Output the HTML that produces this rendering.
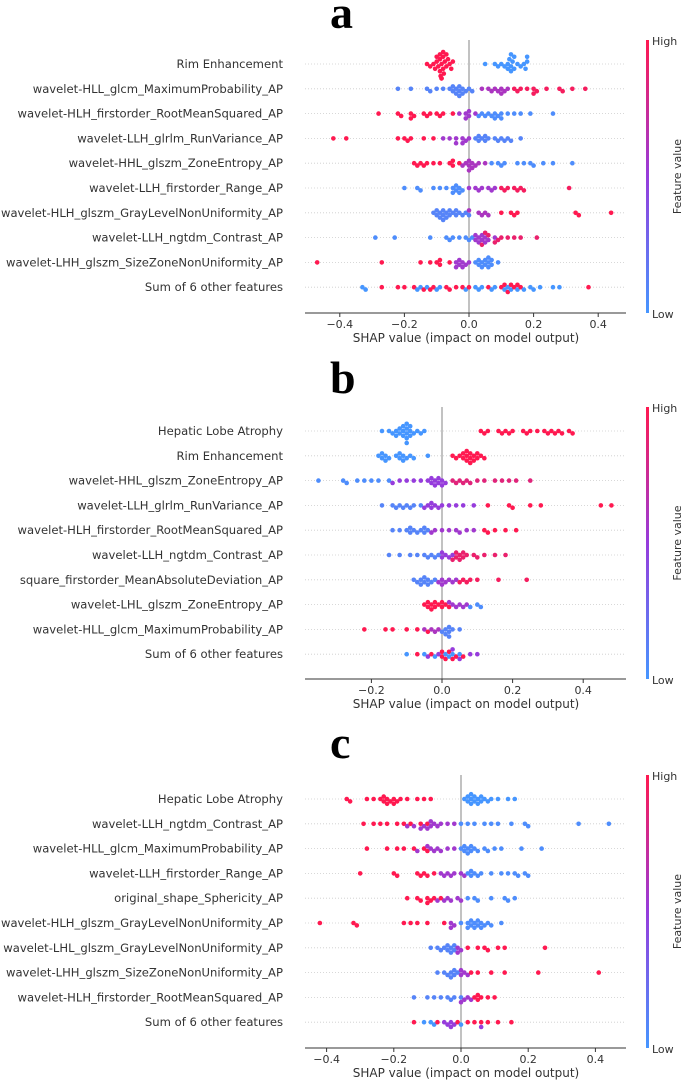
<!DOCTYPE html>
<html><head><meta charset="utf-8"><style>
html,body{margin:0;padding:0;background:#fff}
svg{display:block;font-family:"DejaVu Sans","Liberation Sans",sans-serif}
</style></head><body>
<svg id="chart" width="685" height="1080" viewBox="0 0 685 1080"></svg>
<script>
// Panel data: each row is a list of [featureValue, [shap values]] groups
const labelsA = ["Rim Enhancement","wavelet-HLL_glcm_MaximumProbability_AP","wavelet-HLH_firstorder_RootMeanSquared_AP","wavelet-LLH_glrlm_RunVariance_AP","wavelet-HHL_glszm_ZoneEntropy_AP","wavelet-LLH_firstorder_Range_AP","wavelet-HLH_glszm_GrayLevelNonUniformity_AP","wavelet-LLH_ngtdm_Contrast_AP","wavelet-LHH_glszm_SizeZoneNonUniformity_AP","Sum of 6 other features"];
const labelsB = ["Hepatic Lobe Atrophy","Rim Enhancement","wavelet-HHL_glszm_ZoneEntropy_AP","wavelet-LLH_glrlm_RunVariance_AP","wavelet-HLH_firstorder_RootMeanSquared_AP","wavelet-LLH_ngtdm_Contrast_AP","square_firstorder_MeanAbsoluteDeviation_AP","wavelet-LHL_glszm_ZoneEntropy_AP","wavelet-HLL_glcm_MaximumProbability_AP","Sum of 6 other features"];
const labelsC = ["Hepatic Lobe Atrophy","wavelet-LLH_ngtdm_Contrast_AP","wavelet-HLL_glcm_MaximumProbability_AP","wavelet-LLH_firstorder_Range_AP","original_shape_Sphericity_AP","wavelet-HLH_glszm_GrayLevelNonUniformity_AP","wavelet-LHL_glszm_GrayLevelNonUniformity_AP","wavelet-LHH_glszm_SizeZoneNonUniformity_AP","wavelet-HLH_firstorder_RootMeanSquared_AP","Sum of 6 other features"];
const ticksA = [-0.4,-0.2,0.0,0.2,0.4];
const ticksB = [-0.2,0.0,0.2,0.4];
const ticksC = [-0.4,-0.2,0.0,0.2,0.4];
const dataA = [
 [[1,[-0.13,-0.12,-0.11,-0.105,-0.1,-0.095,-0.09,-0.09,-0.088,-0.085,-0.085,-0.08,-0.08,-0.078,-0.075,-0.07,-0.07,-0.065,-0.06,-0.055,-0.05,-0.09,-0.085,-0.08,-0.1]],[0,[0.05,0.08,0.09,0.1,0.11,0.12,0.125,0.13,0.13,0.135,0.14,0.15,0.16,0.17,0.175,0.18,0.18,0.13,0.14,0.12]]],
 [[0.1,[-0.22,-0.18,-0.13,-0.12,-0.1,-0.08,-0.06,-0.05,-0.04,-0.03,-0.03,-0.02,-0.01,0.0,0.01,-0.04,-0.03,-0.02,-0.05]],[0.6,[0.04,0.06,0.08,0.09,0.1,0.11,0.12,0.07,0.1]],[0.95,[0.14,0.16,0.18,0.2,0.21,0.24,0.28,0.29,0.32,0.36,0.15,0.2]]],
 [[1,[-0.28,-0.22,-0.21,-0.18,-0.17,-0.14,-0.12,-0.1,-0.09,-0.08,-0.05,-0.18,-0.13]],[0.55,[-0.03,-0.01,0.0,0.02,0.0,-0.01]],[0.05,[0.03,0.05,0.07,0.08,0.09,0.1,0.12,0.14,0.16,0.19,0.26,0.04,0.06,0.08,0.1]]],
 [[1,[-0.42,-0.38,-0.22,-0.2,-0.18,-0.14,-0.11,-0.19]],[0.55,[-0.08,-0.06,-0.04,-0.02,-0.01,-0.04,-0.02,0.0]],[0.1,[0.02,0.03,0.04,0.05,0.06,0.08,0.1,0.12,0.13,0.16,0.03,0.05,0.09,0.11]]],
 [[1,[-0.17,-0.15,-0.13,-0.11,-0.09,-0.06,-0.05,-0.03,-0.16,-0.14,-0.05]],[0.6,[-0.01,0.0,0.01,0.02,0.03,0.05,0.0,0.01,0.0,-0.02]],[0.05,[0.07,0.09,0.11,0.15,0.17,0.2,0.23,0.26,0.32,0.1,0.19]]],
 [[0.05,[-0.2,-0.16,-0.15,-0.11,-0.09,-0.07,-0.05,-0.04,-0.03,-0.02,-0.04,-0.05,-0.03]],[0.55,[0.0,0.02,0.04,0.06,0.08,0.03,0.07]],[0.95,[0.1,0.12,0.14,0.15,0.17,0.31,0.16,0.11]]],
 [[0.1,[-0.11,-0.1,-0.09,-0.08,-0.08,-0.07,-0.06,-0.05,-0.04,-0.03,-0.02,-0.01,0.0,-0.09,-0.08,-0.07,-0.06,-0.1,-0.04]],[0.6,[0.03,0.04,0.05,0.06,0.0]],[1,[0.1,0.13,0.14,0.15,0.33,0.34,0.44]]],
 [[0.05,[-0.29,-0.23,-0.12,-0.07,-0.05,-0.03,-0.01,0.0,0.01,-0.06]],[0.55,[0.02,0.03,0.04,0.05,0.06,0.08,0.03,0.04,0.05,0.02]],[0.9,[0.04,0.06,0.09,0.1,0.12,0.14,0.16,0.21,0.05,0.08]]],
 [[1,[-0.47,-0.27,-0.15,-0.12,-0.1,-0.09,-0.06,-0.09]],[0.55,[-0.04,-0.03,-0.02,-0.01,0.0,-0.03,-0.02,-0.04]],[0.05,[0.02,0.03,0.04,0.05,0.06,0.06,0.07,0.09,0.04,0.05,0.06,0.07,0.03]]],
 [[0,[-0.33,-0.16,-0.15,-0.1,-0.01,0.02,0.04,0.08,0.15,0.17,0.2,0.22,0.26,0.28,-0.13,0.11,0.13,-0.32,0.07,0.12,0.19,-0.09,0.03]],[1,[-0.27,-0.22,-0.2,-0.17,-0.14,-0.12,-0.07,-0.04,-0.02,0.0,0.06,0.1,0.12,0.14,0.37,-0.11,0.16,-0.06,0.11,0.13,0.15]]]
];
const dataB = [
 [[0,[-0.17,-0.15,-0.14,-0.13,-0.12,-0.11,-0.11,-0.1,-0.1,-0.1,-0.09,-0.09,-0.08,-0.07,-0.06,-0.05,-0.12,-0.11,-0.1,-0.09,-0.13,-0.1]],[1,[0.11,0.13,0.16,0.17,0.19,0.2,0.23,0.24,0.27,0.29,0.3,0.31,0.32,0.34,0.36,0.37,0.12,0.18,0.25,0.33]]],
 [[0,[-0.18,-0.17,-0.16,-0.15,-0.13,-0.12,-0.11,-0.1,-0.09,-0.08,-0.04,-0.17,-0.16,-0.12,-0.11]],[1,[0.03,0.04,0.05,0.06,0.07,0.07,0.08,0.08,0.09,0.1,0.11,0.12,0.06,0.07,0.08,0.09,0.1]]],
 [[0.05,[-0.35,-0.28,-0.27,-0.24,-0.22,-0.2,-0.18,-0.15]],[0.5,[-0.14,-0.12,-0.1,-0.08,-0.06,-0.04,-0.03,-0.02,-0.01,0.0,0.01,-0.03,-0.02,-0.01,0.0]],[0.85,[0.03,0.04,0.05,0.07,0.08,0.1,0.12,0.15,0.17,0.19,0.21,0.25,0.06]]],
 [[0.1,[-0.17,-0.14,-0.13,-0.11,-0.1,-0.08,-0.06,-0.12,-0.09]],[0.5,[-0.04,-0.03,-0.02,0.0,0.02,0.04,0.06,0.09,-0.05,-0.03,-0.01]],[1,[0.13,0.19,0.2,0.25,0.28,0.45,0.48]]],
 [[0.1,[-0.14,-0.12,-0.1,-0.09,-0.08,-0.06,-0.05,-0.04,-0.09,-0.07,-0.05]],[0.55,[-0.02,0.0,0.02,0.04,0.05,0.07,0.09,-0.03]],[1,[0.12,0.13,0.15,0.18,0.21]]],
 [[0.1,[-0.15,-0.12,-0.09,-0.07,-0.05,-0.03,-0.01,-0.02,-0.04]],[0.5,[0.0,0.02,0.03,0.0,0.01]],[0.9,[0.04,0.05,0.06,0.07,0.09,0.1,0.12,0.15,0.18,0.03,0.05,0.06,0.04]]],
 [[0.1,[-0.08,-0.07,-0.06,-0.05,-0.04,-0.03,-0.02,-0.05,-0.04,-0.06]],[0.55,[0.0,0.01,0.02,0.03,0.04,-0.01,0.0]],[0.95,[0.05,0.07,0.08,0.1,0.16,0.24,0.06]]],
 [[1,[-0.05,-0.04,-0.03,-0.02,-0.01,0.0,0.01,0.02,-0.04,-0.02,0.0,-0.03]],[0.55,[0.03,0.04,0.05,0.06,0.02,0.07]],[0.05,[0.08,0.1,0.11]]],
 [[1,[-0.22,-0.16,-0.14,-0.1,-0.07,-0.04]],[0.6,[-0.05,-0.03,-0.02,-0.01]],[0.1,[0.0,0.01,0.02,0.02,0.03,0.05,0.01,0.02]]],
 [[0,[-0.1,-0.05,-0.02,0.01,0.03,0.05,0.02]],[1,[-0.07,-0.03,0.0,0.02,0.04,0.06,0.01,0.03,0.0]],[0.5,[0.08,0.1,-0.04,0.03,-0.01,0.05]]]
];
const dataC = [
 [[1,[-0.34,-0.33,-0.28,-0.26,-0.24,-0.23,-0.22,-0.21,-0.2,-0.19,-0.18,-0.16,-0.13,-0.11,-0.09,-0.23,-0.22,-0.2]],[0,[0.01,0.02,0.03,0.03,0.04,0.05,0.05,0.06,0.07,0.08,0.09,0.11,0.14,0.16,0.02,0.03,0.04,0.06]]],
 [[1,[-0.29,-0.26,-0.24,-0.22,-0.19,-0.17,-0.15,-0.12,-0.1]],[0.55,[-0.16,-0.14,-0.12,-0.1,-0.09,-0.08,-0.06,-0.04,-0.02,-0.11,-0.09,-0.07]],[0.05,[0.0,0.02,0.04,0.07,0.09,0.11,0.15,0.19,0.2,0.35,0.44]]],
 [[1,[-0.28,-0.22,-0.19,-0.17,-0.14,-0.11,-0.1]],[0.55,[-0.13,-0.1,-0.08,-0.06,-0.04,-0.02,-0.09,-0.07]],[0.05,[0.0,0.01,0.02,0.03,0.05,0.07,0.08,0.1,0.12,0.18,0.24,0.01,0.02,0.03,0.04]]],
 [[1,[-0.3,-0.2,-0.19,-0.13,-0.11,-0.1,-0.08,-0.12]],[0.55,[-0.06,-0.04,-0.02,0.0,0.01,-0.05,-0.03]],[0.05,[0.02,0.03,0.05,0.06,0.09,0.12,0.14,0.16,0.17,0.19,0.2,0.03,0.04]]],
 [[1,[-0.16,-0.13,-0.1,-0.1,-0.08,-0.06,-0.12,-0.09]],[0.55,[-0.05,-0.03,-0.01,0.0,-0.07,-0.04]],[0.05,[0.02,0.04,0.05,0.09,0.13,0.14,0.16]]],
 [[1,[-0.42,-0.32,-0.31,-0.17,-0.15,-0.13,-0.1,-0.05]],[0.55,[-0.03,-0.02,-0.03]],[0.05,[0.0,0.02,0.03,0.04,0.05,0.06,0.07,0.08,0.09,0.12,0.02,0.03,0.04,0.05,0.06]]],
 [[0.1,[-0.09,-0.07,-0.06,-0.05,-0.04,-0.03,-0.02,-0.03,-0.02,-0.04]],[0.55,[-0.01,0.0,-0.01]],[1,[0.02,0.05,0.07,0.08,0.11,0.13,0.25]]],
 [[0.1,[-0.07,-0.05,-0.04,-0.03,-0.02,-0.01,-0.03,-0.02]],[0.55,[0.0,0.01,0.02,0.0]],[1,[0.03,0.05,0.09,0.13,0.23,0.41]]],
 [[0.1,[-0.14,-0.1,-0.08,-0.06,-0.04,-0.02,0.0,-0.03]],[0.55,[0.01,0.02,0.03,0.0]],[1,[0.04,0.05,0.06,0.08,0.1,0.05]]],
 [[1,[-0.14,-0.07,-0.01,0.02,0.04,0.08,0.11,0.15,0.06]],[0,[-0.11,0.0,-0.09,-0.08]],[0.5,[-0.05,-0.03,0.06,-0.02,-0.04,-0.03]]]
];

const NS="http://www.w3.org/2000/svg";
const svg=document.getElementById('chart');
function mk(tag,attrs,parent){const e=document.createElementNS(NS,tag);for(const k in attrs)e.setAttribute(k,attrs[k]);(parent||svg).appendChild(e);return e;}
function color(t){
  const s=[[70,150,255],[150,60,220],[255,25,80]];
  let a,b,u;if(t<0.5){a=s[0];b=s[1];u=t/0.5;}else{a=s[1];b=s[2];u=(t-0.5)/0.5;}
  return `rgb(${Math.round(a[0]+(b[0]-a[0])*u)},${Math.round(a[1]+(b[1]-a[1])*u)},${Math.round(a[2]+(b[2]-a[2])*u)})`;
}
let gradDone=false;
function panel(cfg){
  const {id,letter,letterY,labels,data,ticks,zeroX,unit,rowY0,rowStep,axisY,topY}=cfg;
  const g=mk('g',{});  
  const xs=v=>zeroX+v*unit;
  const lt=mk('text',{x:330,y:letterY,'font-family':'"Liberation Serif",serif','font-weight':'bold','font-size':46,fill:'#000'},g);
  lt.textContent=letter;  
  mk('line',{x1:xs(0),x2:xs(0),y1:topY,y2:axisY,stroke:'#999','stroke-width':1.2},g);
  labels.forEach((lab,i)=>{
    const y=rowY0+i*rowStep;
    const gl=mk('line',{x1:305,x2:626,y1:y,y2:y,stroke:'#ccc','stroke-width':0.8,'stroke-dasharray':'1,2'},g);
     
    const t=mk('text',{x:283,y:y+4,'text-anchor':'end','font-size':11.6,fill:'#333'},g);
    t.textContent=lab;  
    // collision beeswarm
    const pts=[];data[i].forEach(gr=>gr[1].forEach(v=>pts.push({v,f:gr[0]})));
    pts.sort((a,b)=>a.v-b.v);
    const placed=[];
    pts.forEach(p=>{
      const px=xs(p.v);let off=0;
      for(let k=0;k<12;k++){
        off=k===0?0:(k%2?1:-1)*Math.ceil(k/2)*2.4;
        const ok=placed.every(q=>Math.hypot(q.x-px,q.y-off)>=3.6);
        if(ok)break;
      }
      placed.push({x:px,y:off});
      const c=mk('circle',{cx:px,cy:y+off,r:2.3,fill:color(p.f)},g);
       
    });
  });
  const ax=mk('line',{x1:305,x2:626,y1:axisY,y2:axisY,stroke:'#333','stroke-width':1},g);
   
  ticks.forEach(v=>{
    mk('line',{x1:xs(v),x2:xs(v),y1:axisY,y2:axisY+4,stroke:'#333'},g);
    const t=mk('text',{x:xs(v),y:axisY+15,'text-anchor':'middle','font-size':11,fill:'#333'},g);
    t.textContent=(v<0?'\u2212':'')+Math.abs(v).toFixed(1);
     
  });
  const xl=mk('text',{x:466,y:axisY+29,'text-anchor':'middle','font-size':12,fill:'#333'},g);
  xl.textContent='SHAP value (impact on model output)';  
  if(!gradDone){const d=mk('defs',{});const lg=mk('linearGradient',{id:'cb',x1:0,y1:1,x2:0,y2:0},d);
    [[0,color(0)],[0.5,color(0.5)],[1,color(1)]].forEach(s=>mk('stop',{offset:s[0],'stop-color':s[1]},lg));gradDone=true;}
  const cb=mk('rect',{x:646,y:topY,width:3,height:axisY-topY,fill:'url(#cb)'},g);
   
  const hi=mk('text',{x:652,y:topY+5,'font-size':11,fill:'#333'},g);hi.textContent='High';
   
  const lo=mk('text',{x:652,y:axisY+5,'font-size':11,fill:'#333'},g);lo.textContent='Low';
   
  const my=(topY+axisY)/2;
  const fv=mk('text',{x:681,y:my,'font-size':11,fill:'#333','text-anchor':'middle',transform:`rotate(-90 681 ${my})`},g);
  fv.textContent='Feature value';  
}
panel({id:'a',letter:'a',letterY:28,labels:labelsA,data:dataA,ticks:ticksA,zeroX:469,unit:323,rowY0:64,rowStep:24.8,axisY:313,topY:40});
panel({id:'b',letter:'b',letterY:393,labels:labelsB,data:dataB,ticks:ticksB,zeroX:442,unit:353,rowY0:431,rowStep:24.8,axisY:679,topY:407});
panel({id:'c',letter:'c',letterY:758,labels:labelsC,data:dataC,ticks:ticksC,zeroX:461,unit:336,rowY0:799,rowStep:24.8,axisY:1048,topY:775});
</script>
</body></html>
